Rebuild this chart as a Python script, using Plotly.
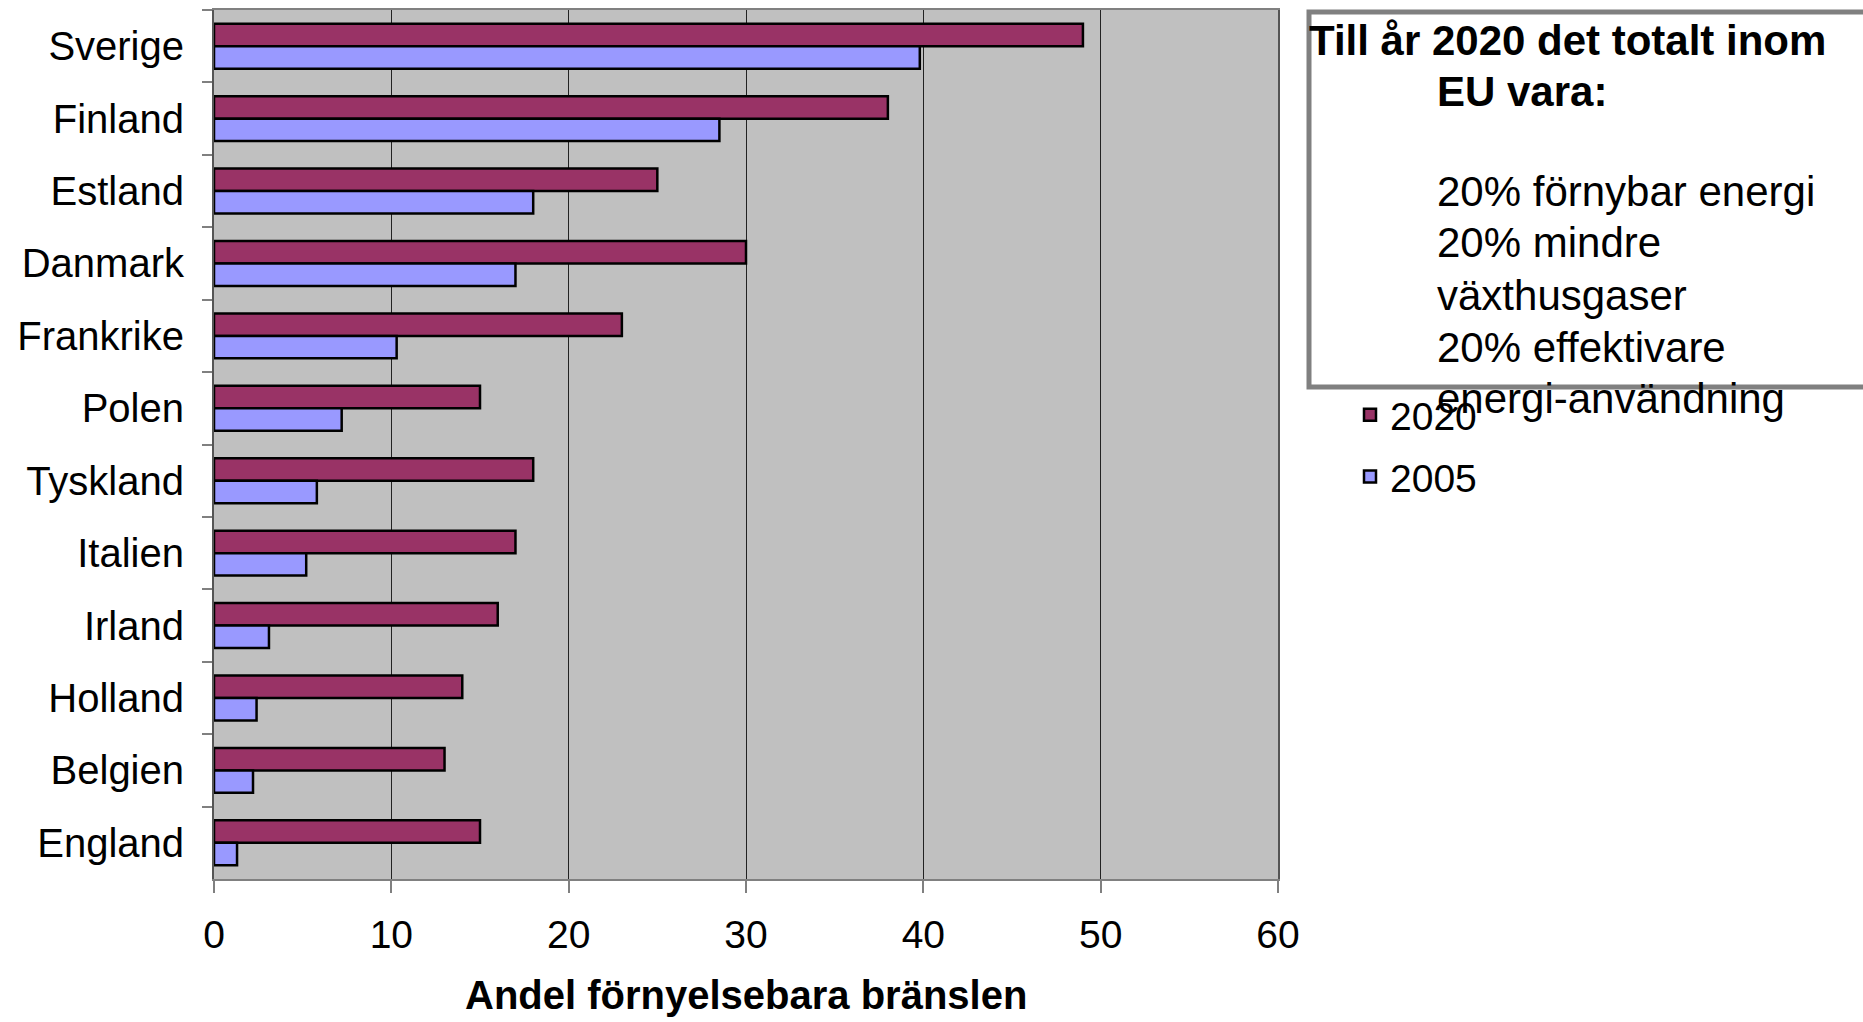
import plotly.graph_objects as go

# Share of renewable energy per country (%), 2005 actual and 2020 target
countries = ["Sverige", "Finland", "Estland", "Danmark", "Frankrike", "Polen",
             "Tyskland", "Italien", "Irland", "Holland", "Belgien", "England"]
target_2020 = [49, 38, 25, 30, 23, 15, 18, 17, 16, 14, 13, 15]
actual_2005 = [39.8, 28.5, 18.0, 17.0, 10.3, 7.2, 5.8, 5.2, 3.1, 2.4, 2.2, 1.3]

x_ticks = [0, 10, 20, 30, 40, 50, 60]
x_title = "Andel förnyelsebara bränslen"

box_title = ["Till år 2020 det totalt inom", "EU vara:"]
box_lines = ["20% förnybar energi", "20% mindre", "växthusgaser",
             "20% effektivare", "energi-användning"]

W, H = 1863, 1022
L, R, T, B = 214, 1278, 10, 879  # plot area in pixels


def px_x(p):
    return (p - L) / (R - L)


def px_y(p):
    return (B - p) / (B - T)


FONT = "Liberation Sans, Arial, sans-serif"

fig = go.Figure()
fig.add_trace(go.Bar(
    y=countries, x=target_2020, name="2020", orientation="h",
    marker=dict(color="#993366", line=dict(color="black", width=2.5)),
    legendgroup="a",
))
fig.add_trace(go.Bar(
    y=countries, x=actual_2005, name="2005", orientation="h",
    marker=dict(color="#9999FF", line=dict(color="black", width=2.5)),
    legendgroup="b",
))

# Text box with the EU 2020 goals
fig.add_shape(type="rect", xref="paper", yref="paper",
              x0=px_x(1309), x1=px_x(1900), y0=px_y(387), y1=px_y(12),
              line=dict(color="#808080", width=5), fillcolor="white",
              layer="above")

annotations = [
    dict(text=box_title[0], x=px_x(1307), y=px_y(40), bold=True),
    dict(text=box_title[1], x=px_x(1435), y=px_y(91), bold=True),
]
line_y = [192, 243, 295, 347, 398]
for txt, yy in zip(box_lines, line_y):
    annotations.append(dict(text=txt, x=px_x(1435), y=px_y(yy), bold=False))

for a in annotations:
    t = "<b>%s</b>" % a["text"] if a["bold"] else a["text"]
    fig.add_annotation(text=t, x=a["x"], y=a["y"], xref="paper", yref="paper",
                       xanchor="left", yanchor="middle", showarrow=False,
                       font=dict(family=FONT, size=42, color="black"))

# x-axis title, centred under the plot area
fig.add_annotation(text="<b>%s</b>" % x_title, x=0.5, y=px_y(1019),
                   xref="paper", yref="paper", xanchor="center",
                   yanchor="bottom", showarrow=False,
                   font=dict(family=FONT, size=40, color="black"))

fig.update_layout(
    width=W, height=H,
    margin=dict(l=L, r=W - R, t=T, b=H - B, autoexpand=False),
    paper_bgcolor="white", plot_bgcolor="#C0C0C0",
    barmode="group", bargap=0.38, bargroupgap=0,
    font=dict(family=FONT, size=39, color="black"),
    legend=dict(x=px_x(1350), y=px_y(383), xanchor="left", yanchor="top",
                font=dict(size=39), traceorder="grouped", tracegroupgap=8,
                bgcolor="rgba(0,0,0,0)"),
    xaxis=dict(
        range=[0, 60], tickvals=x_ticks, showgrid=True, gridcolor="#222222",
        gridwidth=1, zeroline=False, showline=True, linecolor="#808080",
        linewidth=2, mirror=True, ticks="outside", ticklen=12,
        tickcolor="#808080", tickwidth=2, ticklabelstandoff=8,
        automargin=False,
    ),
    yaxis=dict(
        categoryorder="array", categoryarray=countries, autorange="reversed",
        showgrid=False, showline=True, linecolor="#555555", linewidth=2,
        mirror=True, ticks="outside", ticklen=10, tickcolor="#808080",
        tickwidth=2, tickson="boundaries", ticklabelstandoff=20,
        tickfont=dict(size=40),
        automargin=False,
    ),
)

fig.write_html("out.html")
